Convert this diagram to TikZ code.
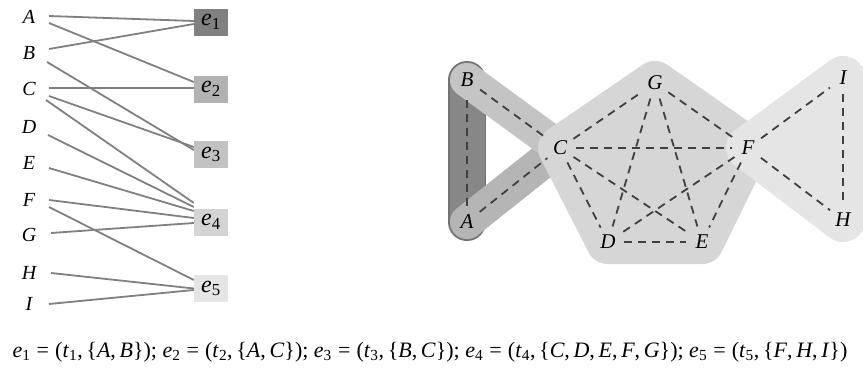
\documentclass[tikz,border=0pt]{standalone}
\usepackage{fontspec}
\setmainfont{Liberation Serif}
\newcommand\isub[2]{\textit{#1}\textsubscript{#2}}
\newcommand\meq{\hspace{0.278em}=\hspace{0.278em}}
\begin{document}
\begin{tikzpicture}[x=1pt,y=-1pt,
  lbl/.style={font=\fontsize{20}{22}\selectfont\itshape, inner sep=0pt},
  ebox/.style={minimum width=34pt, minimum height=27pt, inner sep=0pt, font=\fontsize{24}{26}\selectfont},
  conn/.style={draw=black!50, line width=1.8pt},
  vtx/.style={circle, minimum size=32pt, inner sep=0pt, font=\fontsize{21}{23}\selectfont\itshape},
  dedge/.style={draw=black!75, line width=1.8pt, dash pattern=on 8pt off 6pt},
  band/.style={line width=#1, line cap=round, line join=round}
]
\useasboundingbox (0,0) rectangle (863,372);
% ---------- left: incidence graph ----------
\foreach \n/\y in {A/17,B/53,C/89,D/127,E/163,F/200,G/235,H/273,I/304}
  \node[lbl] (\n) at (29,\y) {\n};
\node[ebox, fill=black!50] (e1) at (211,22) {\isub{e}{1}};
\node[ebox, fill=black!30] (e2) at (211,89) {\isub{e}{2}};
\node[ebox, fill=black!24] (e3) at (211,154.5) {\isub{e}{3}};
\node[ebox, fill=black!17] (e4) at (211,222) {\isub{e}{4}};
\node[ebox, fill=black!10] (e5) at (211,288.5) {\isub{e}{5}};
\draw[conn] ([shift={(20,-1)}]A.center) -- ([shift={(0,-1)}]e1.west);
\draw[conn] ([shift={(20,6)}]A.center) -- ([shift={(0,-7)}]e2.west);
\draw[conn] ([shift={(20,-4)}]B.center) -- ([shift={(0,2)}]e1.west);
\draw[conn] ([shift={(18,9)}]B.center) -- ([shift={(0,-4.5)}]e3.west);
\draw[conn] ([shift={(20,-1)}]C.center) -- ([shift={(0,-1)}]e2.west);
\draw[conn] ([shift={(20,7)}]C.center) -- ([shift={(0,-7.5)}]e3.west);
\draw[conn] ([shift={(17,11)}]C.center) -- ([shift={(0,-19)}]e4.west);
\draw[conn] ([shift={(19,8)}]D.center) -- ([shift={(0,-15)}]e4.west);
\draw[conn] ([shift={(20,5)}]E.center) -- ([shift={(0,-11)}]e4.west);
\draw[conn] ([shift={(20,0)}]F.center) -- ([shift={(0,-4)}]e4.west);
\draw[conn] ([shift={(22,-2)}]G.center) -- ([shift={(0,1)}]e4.west);
\draw[conn] ([shift={(20,7)}]F.center) -- ([shift={(0,-8.5)}]e5.west);
\draw[conn] ([shift={(22,0)}]H.center) -- ([shift={(0,0)}]e5.west);
\draw[conn] ([shift={(20,0)}]I.center) -- ([shift={(0,1.5)}]e5.west);
% ---------- right: hypergraph ----------
\coordinate (pB) at (467,80);
\coordinate (pA) at (467,222);
\coordinate (pC) at (560,148);
\coordinate (pG) at (655,83);
\coordinate (pF) at (748,148);
\coordinate (pD) at (608,242);
\coordinate (pE) at (702,242);
\coordinate (pI) at (843,78);
\coordinate (pH) at (843,220);
% hyperedges
\draw[band=38pt, draw=black!55] (pA) -- (pB);
\draw[band=35pt, draw=black!47] (pA) -- (pB);
\draw[band=34pt, draw=black!29] (pA) -- (pC);
\draw[band=34pt, draw=black!23] (pB) -- (pC);
\draw[band=44pt, draw=black!16, fill=black!16] (pC) -- (pG) -- (pF) -- (pE) -- (pD) -- cycle;
\draw[band=44pt, draw=black!10, fill=black!10] (pF) -- (pI) -- (pH) -- cycle;
% vertices
\foreach \n in {A,B,C,D,E,F,G,H,I}
  \node[vtx] (v\n) at (p\n) {\n};
% edges
\foreach \a/\b in {A/B,B/C,A/C,C/G,C/F,C/D,C/E,G/D,G/E,G/F,F/D,F/E,D/E,F/I,F/H,I/H}
  \draw[dedge] (v\a) -- (v\b);
% ---------- formula ----------
\node[font=\fontsize{22}{25}\selectfont, inner sep=0pt] (formula) at (430,352)
  {\isub{e}{1}\meq(\isub{t}{1},\,\{\textit{A},\,\textit{B}\}); \isub{e}{2}\meq(\isub{t}{2},\,\{\textit{A},\,\textit{C}\}); \isub{e}{3}\meq(\isub{t}{3},\,\{\textit{B},\,\textit{C}\}); \isub{e}{4}\meq(\isub{t}{4},\,\{\textit{C},\,\textit{D},\,\textit{E},\,\textit{F},\,\textit{G}\}); \isub{e}{5}\meq(\isub{t}{5},\,\{\textit{F},\,\textit{H},\,\textit{I}\})};
\end{tikzpicture}
\end{document}
